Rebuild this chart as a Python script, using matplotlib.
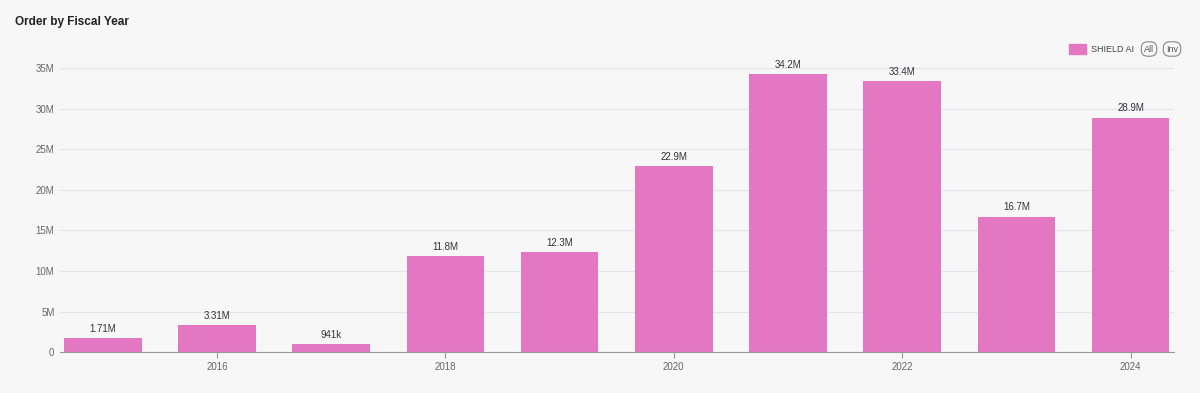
import numpy as np
import matplotlib.pyplot as plt
from matplotlib.ticker import FuncFormatter

plt.rcParams['font.family'] = ['Liberation Sans', 'DejaVu Sans']

# Data
years = [2015, 2016, 2017, 2018, 2019, 2020, 2021, 2022, 2023, 2024]
orders = [1.71e6, 3.31e6, 0.941e6, 11.8e6, 12.3e6, 22.9e6, 34.2e6, 33.4e6, 16.7e6, 28.9e6]
labels = ["1.71M", "3.31M", "941k", "11.8M", "12.3M", "22.9M", "34.2M", "33.4M", "16.7M", "28.9M"]

bg = "#f7f7f7"
pink = "#e377c2"
grey = "#666666"

fig = plt.figure(figsize=(12, 3.93), dpi=100, facecolor=bg)
ax = fig.add_axes([0.05, 0.104, 0.928, 0.723], facecolor=bg)

bars = ax.bar(years, orders, width=0.68, color=pink, zorder=2)
for b, lab in zip(bars, labels):
    ax.annotate(lab, (b.get_x() + b.get_width() / 2, b.get_height()),
                xytext=(0, 3), textcoords="offset points",
                ha="center", va="bottom", fontsize=7, color="#333333")

ax.set_xlim(2015 - 0.374, 2024 + 0.376)
ax.set_ylim(0, 35e6)
ax.set_yticks(np.arange(0, 35e6 + 1, 5e6))
ax.yaxis.set_major_formatter(FuncFormatter(lambda v, p: "0" if v == 0 else f"{v / 1e6:.0f}M"))
ax.set_xticks([2016, 2018, 2020, 2022, 2024])
ax.grid(axis="y", color="#e3e3ec", linewidth=0.8, zorder=0)
ax.tick_params(axis="y", length=0, labelsize=7, labelcolor=grey, pad=4)
ax.tick_params(axis="x", length=4, color="#999999", labelsize=7, labelcolor=grey, pad=3)
for s in ["top", "right", "left"]:
    ax.spines[s].set_visible(False)
ax.spines["bottom"].set_color("#999999")

fig.text(15 / 1200, 1 - 22 / 393, "Order by Fiscal Year", fontsize=8.5, fontweight="bold",
         color="#222222", va="center", ha="left")

# legend
fig.patches.append(plt.Rectangle((1069 / 1200, 1 - 54 / 393), 17 / 1200, 10 / 393,
                                 transform=fig.transFigure, color=pink))
fig.text(1091 / 1200, 1 - 49 / 393, "SHIELD AI", fontsize=6.5, color="#444444", va="center")
for x, t in [(1149, "All"), (1172, "Inv")]:
    fig.text(x / 1200, 1 - 49 / 393, t, fontsize=6.5, color="#555555", va="center", ha="center",
             bbox=dict(boxstyle="round,pad=0.3,rounding_size=0.7", fc=bg, ec="#888888", lw=0.8))

fig.savefig("out.png", dpi=100, facecolor=bg)
